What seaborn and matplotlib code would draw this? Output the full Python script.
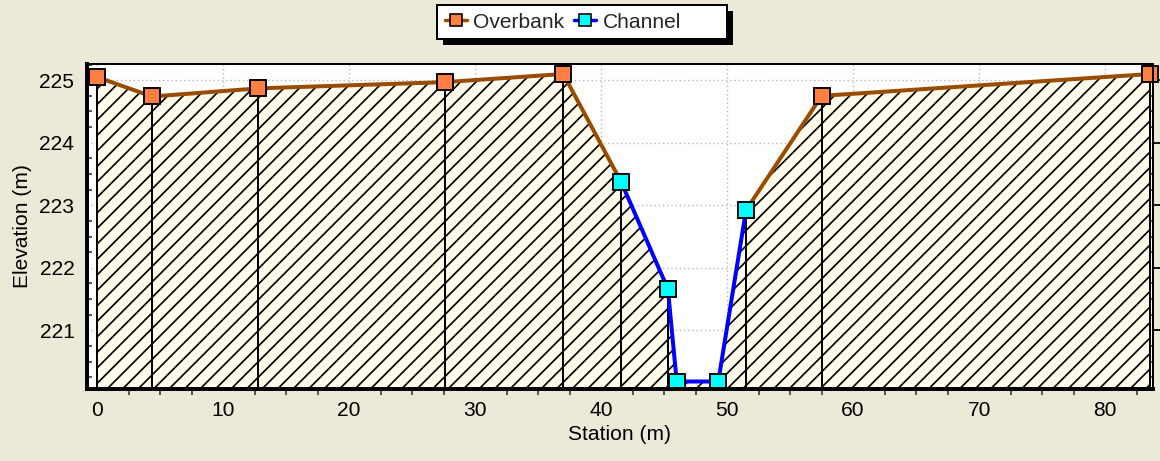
import numpy as np
import pandas as pd
import matplotlib
matplotlib.use("Agg")
import matplotlib.pyplot as plt
import seaborn as sns
from matplotlib.lines import Line2D
from matplotlib.patches import Rectangle
from matplotlib.ticker import MultipleLocator

# ---- data ----
left_bank_station = [0.0, 4.37, 12.8, 27.6, 37.0, 41.6]
left_bank_elev = [225.05, 224.74, 224.87, 224.97, 225.10, 223.37]
channel_station = [41.6, 45.3, 46.0, 49.3, 51.5]
channel_elev = [223.37, 221.66, 220.18, 220.18, 222.92]
right_bank_station = [51.5, 57.5, 83.6]
right_bank_elev = [222.92, 224.75, 225.10]
overbank_marker_station = [0.0, 4.37, 12.8, 27.6, 37.0, 57.5, 83.6]
overbank_marker_elev = [225.05, 224.74, 224.87, 224.97, 225.10, 224.75, 225.10]
xticks = [0, 10, 20, 30, 40, 50, 60, 70, 80]
yticks = [221, 222, 223, 224, 225]
legend_labels = ["Overbank", "Channel"]
x_label = "Station (m)"
y_label = "Elevation (m)"

DPI = 93            # hatch '//' -> ~15.5 px line spacing at this dpi
W, H = 1160, 461


def P(px):
    """pixels -> points"""
    return px * 72.0 / DPI


sns.set_theme(style="white")
plt.rcParams["font.family"] = ["Liberation Sans", "DejaVu Sans"]
plt.rcParams["hatch.linewidth"] = P(1.7)
plt.rcParams["hatch.color"] = "black"

BG = "#ECE9D8"
BROWN = "#994C00"
ORANGE = "#FF8040"
CYAN = "#00FFFF"
BLUE = "#0000FF"
CREAM = "#FFFCEC"
FS = P(21)

fig = plt.figure(figsize=(W / DPI, H / DPI), dpi=DPI, facecolor=BG)
ax = fig.add_axes([87 / W, (H - 389) / H, (1153 - 87) / W, (389 - 64) / H])
ax.set_facecolor("white")

ylo, yhi = 220.06, 225.26
xlo, xhi = -0.8, 83.8

# ground profile
prof_x = left_bank_station + channel_station[1:] + right_bank_station[1:]
prof_y = left_bank_elev + channel_elev[1:] + right_bank_elev[1:]
ax.fill_between(prof_x, prof_y, ylo, facecolor=CREAM, edgecolor="black",
                hatch="//", linewidth=0, zorder=2)
ax.vlines(prof_x, ylo, prof_y, colors="black", linewidth=P(2), zorder=3)

# grid
ax.grid(True, which="major", color="#B8B8B8", linestyle=(0, (1, 2)),
        linewidth=P(1.4), zorder=0)
ax.set_axisbelow(True)

# lines
df_l = pd.DataFrame({"x": left_bank_station, "y": left_bank_elev})
df_r = pd.DataFrame({"x": right_bank_station, "y": right_bank_elev})
df_c = pd.DataFrame({"x": channel_station, "y": channel_elev})
for d in (df_l, df_r):
    sns.lineplot(data=d, x="x", y="y", ax=ax, color=BROWN, linewidth=P(4),
                 sort=False, estimator=None, zorder=4)
sns.lineplot(data=df_c, x="x", y="y", ax=ax, color=BLUE, linewidth=P(4),
             sort=False, estimator=None, zorder=5)
ax.plot(overbank_marker_station, overbank_marker_elev, linestyle="none", marker="s",
        markersize=P(15.5), markerfacecolor=ORANGE, markeredgecolor="black",
        markeredgewidth=P(1.9), zorder=6, clip_on=False)
ax.plot(channel_station, channel_elev, linestyle="none", marker="s",
        markersize=P(15.5), markerfacecolor=CYAN, markeredgecolor="black",
        markeredgewidth=P(1.9), zorder=7, clip_on=False)

ax.set_xlim(xlo, xhi)
ax.set_ylim(ylo, yhi)
ax.set_xticks(xticks)
ax.set_yticks(yticks)
ax.xaxis.set_minor_locator(MultipleLocator(2.5))
ax.yaxis.set_minor_locator(MultipleLocator(0.25))
ax.tick_params(axis="both", which="major", labelsize=FS, colors="black",
               direction="out", length=P(8), width=P(1.8), pad=P(4.5))
ax.tick_params(axis="x", which="minor", direction="out", length=P(5.5),
               width=P(1.5), bottom=True)
ax.tick_params(axis="y", which="minor", direction="in", length=P(4.5),
               width=P(1.5), left=True, right=True)
ax.tick_params(axis="y", which="major", right=True)
ax.set_xlabel(x_label, fontsize=FS, labelpad=P(4.5), color="black")
ax.set_ylabel(y_label, fontsize=FS, labelpad=P(7), color="black")

for s in ("left", "bottom"):
    ax.spines[s].set_linewidth(P(4))
ax.spines["top"].set_linewidth(P(2))
ax.spines["right"].set_linewidth(P(2))
for s in ax.spines.values():
    s.set_color("black")
    s.set_zorder(8)

# legend
handles = [
    Line2D([], [], color=BROWN, linewidth=P(3.5), marker="s", markersize=P(12.8),
           markerfacecolor=ORANGE, markeredgecolor="black", markeredgewidth=P(1.6)),
    Line2D([], [], color=BLUE, linewidth=P(3.5), marker="s", markersize=P(12.8),
           markerfacecolor=CYAN, markeredgecolor="black", markeredgewidth=P(1.6)),
]
leg = fig.legend(handles, legend_labels, loc="center left",
                 bbox_to_anchor=(445 / W, 1 - 22 / H),
                 ncol=2, frameon=False, fontsize=FS, handlelength=1.05,
                 handletextpad=0.29, columnspacing=0.48, borderpad=0,
                 borderaxespad=0)
leg.set_zorder(11)
# legend box (white with black frame) and its solid shadow
bx0, bx1, by0, by1 = 437, 727, 5, 39
fig.add_artist(Rectangle(((bx0 + 6) / W, 1 - (by1 + 6) / H), (bx1 - bx0) / W,
                         (by1 - by0) / H, transform=fig.transFigure,
                         facecolor="black", edgecolor="none", zorder=9))
fig.add_artist(Rectangle((bx0 / W, 1 - by1 / H), (bx1 - bx0) / W, (by1 - by0) / H,
                         transform=fig.transFigure, facecolor="white",
                         edgecolor="black", linewidth=P(2), zorder=10))

fig.savefig("out.png", dpi=DPI, facecolor=BG)
